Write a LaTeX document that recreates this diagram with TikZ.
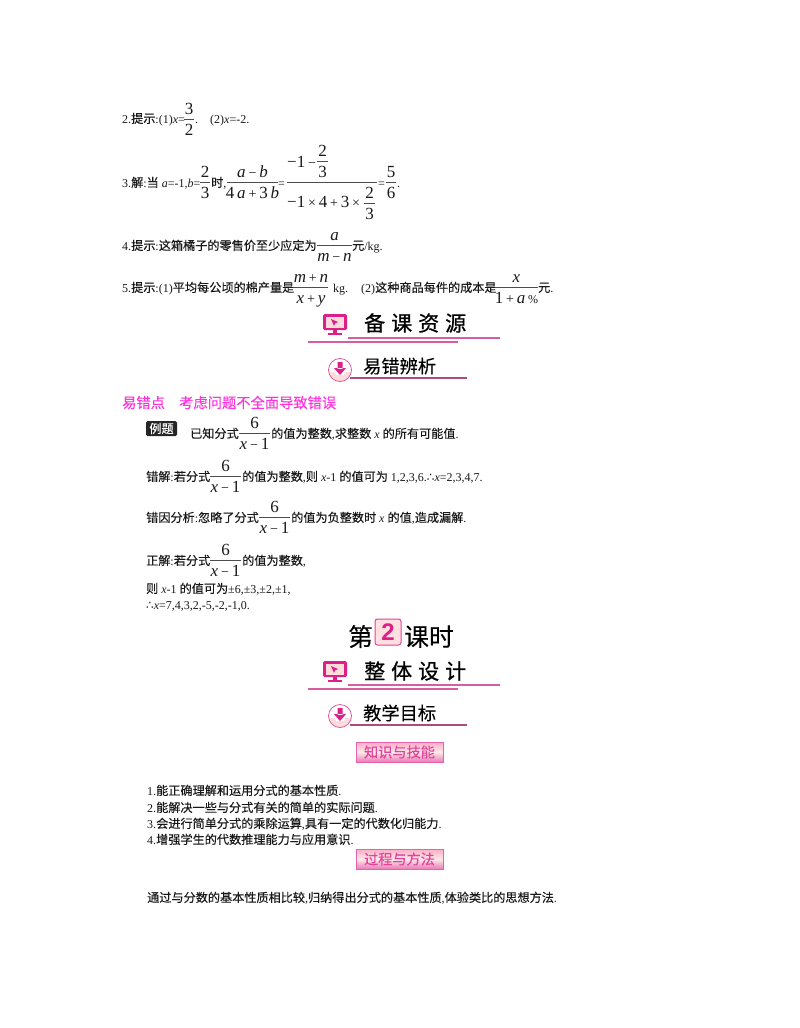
\documentclass[tikz,border=0pt]{standalone}
\usepackage{fontspec}
\setmainfont{Liberation Serif}
\newfontfamily\cjk[Scale=1.012,FakeBold=0.15]{Noto Sans CJK SC}
\newfontfamily\cjkhead[FakeBold=0.8]{Noto Sans CJK SC}
\newfontfamily\symf{DejaVu Sans}
\newfontfamily\numf{Liberation Sans}
\usetikzlibrary{calc}
\newcommand{\C}[1]{{\cjk #1}}
\newcommand{\I}[1]{\textit{#1}}
\newcommand{\Th}{{\symf\fontsize{12}{12}\selectfont ∴}}
\newcounter{nid}
\definecolor{rulepink}{HTML}{D85CA0}
\definecolor{iconpink}{HTML}{DC2088}
\definecolor{hotpink}{HTML}{FF33DD}
\tikzset{
  x=1pt,y=-1pt,
  txt/.style={anchor=base west,inner sep=0pt,font=\fontsize{12}{14}\selectfont,text=black!90},
  fracnum/.style={anchor=base,inner sep=0pt,font=\fontsize{17}{19}\selectfont,text=black!90},
  head/.style={anchor=base west,inner sep=0pt,font=\cjkhead\fontsize{21}{24}\selectfont,text=black},
  subhead/.style={anchor=base west,inner sep=0pt,font=\cjk\fontsize{18}{20}\selectfont,text=black},
  redhead/.style={anchor=base west,inner sep=0pt,font=\cjk\fontsize{14.1}{16}\selectfont,text=hotpink},
  barline/.style={line width=0.8pt,black!70},
  hrule/.style={line width=1.2pt,rulepink},
  hruledark/.style={line width=1.2pt,rulepink!80!black},
  banner/.style={draw=iconpink!70,line width=0.6pt,top color=pink!90!magenta,bottom color=iconpink!60,middle color=white!65!pink,inner sep=0pt,minimum width=87pt,minimum height=20pt,font=\cjk\fontsize{14}{16}\selectfont,text=iconpink!85}
}
\newcommand{\T}[3]{\stepcounter{nid}\node[txt] (t\arabic{nid}) at (#1,#2) {#3};}
% \Fr{x1}{x2}{ybar}{num}{den}
\newcommand{\Fr}[5]{\stepcounter{nid}
  \draw[barline] (#1,#3) -- (#2,#3);
  \node[fracnum] (n\arabic{nid}) at ({(#1+#2)/2},#3-4.5) {#4};
  \node[fracnum] (d\arabic{nid}) at ({(#1+#2)/2},#3+16) {#5};}
\newcommand{\Mon}[2]{% top-left corner x,y
  \begin{scope}[shift={(#1,#2)}]
    \fill[iconpink,rounded corners=1.5pt] (0,0) rectangle (24,16);
    \fill[pink!55] (3,2.5) rectangle (21,13.5);
    \fill[iconpink] (8,5) -- (15,8) -- (12,9.5) -- (11,12) -- cycle;
    \fill[iconpink] (10,16) rectangle (14,19);
    \fill[iconpink] (5,19) rectangle (19,21);
  \end{scope}}
\newcommand{\Dl}[2]{% centre
  \begin{scope}[shift={(#1,#2)}]
    \fill[white] (0,0) circle (11.5);
    \begin{scope}
      \clip (0,0) circle (11.5);
      \fill[pink!55] (-12,2) -- (-5,2) -- (-4,5) -- (4,5) -- (5,2) -- (12,2) -- (12,12) -- (-12,12) -- cycle;
    \end{scope}
    \draw[rulepink,line width=0.8pt] (0,0) circle (11.5);
    \fill[iconpink] (-2.5,-8) rectangle (2.5,-1) (-6,-2) -- (6,-2) -- (0,5) -- cycle;
  \end{scope}}
\newcommand{\Mn}{{\fontsize{14}{14}\selectfont −}}
\newcommand{\Pl}{{\fontsize{14}{14}\selectfont +}}
\newcommand{\Tm}{{\fontsize{14}{14}\selectfont ×}}
\newcommand{\xmo}{\I{x}\,\Mn\,1}
\begin{document}
\begin{tikzpicture}
\useasboundingbox (0,0) rectangle (800,1028);
\fill[white] (0,0) rectangle (800,1028);
% 2
\T{122}{123}{2.\C{提示}:(1)\I{x}=}
\Fr{184}{194}{119}{3}{2}
\T{195}{123}{.}
\T{210}{123}{(2)\I{x}=-2.}
% 3
\T{122}{187}{3.\C{解}:\C{当} \I{a}=-1,\I{b}=}
\Fr{200}{210}{182}{2}{3}
\T{211}{187}{\C{时},}
\Fr{227}{278}{182}{\I{a}\,\Mn\,\I{b}}{4\,\I{a}\,\Pl\,3\,\I{b}}
\T{278}{187}{=}
\draw[barline] (287,182) -- (377,182);
\stepcounter{nid}\node[fracnum,anchor=base west] (m1) at (287,167) {−1\,\Mn};
\Fr{317}{328}{161}{2}{3}
\stepcounter{nid}\node[fracnum,anchor=base west] (m2) at (287,207) {−1\,\Tm\,4\,\Pl\,3\,\Tm};
\Fr{364}{375}{203}{2}{3}
\T{378}{187}{=}
\Fr{386}{396}{182}{5}{6}
\T{397}{187}{.}
% 4
\T{122}{250}{4.\C{提示}:\C{这箱橘子的零售价至少应定为}}
\Fr{317}{352}{245}{\I{a}}{\I{m}\,\Mn\,\I{n}}
\T{352}{250}{\C{元}/kg.}
% 5
\T{122}{292}{5.\C{提示}:(1)\C{平均每公顷的棉产量是}}
\Fr{294}{328}{287}{\I{m}\,\Pl\,\I{n}}{\I{x}\,\Pl\,\I{y}}
\T{333}{292}{kg.}
\T{361}{292}{(2)\C{这种商品每件的成本是}}
\Fr{495}{538}{287}{\I{x}}{1\,\Pl\,\I{a}\,{\fontsize{12}{14}\selectfont \%}}
\T{538}{292}{\C{元}.}
% header 1
\Mon{323}{314}
\node[head] (h1) at (364,331) {备\hspace{6pt}课\hspace{6pt}资\hspace{6pt}源};
\draw[hrule] (348,338) -- (500,338);
\draw[hrule] (308,342) -- (458,342);
\Dl{340}{370}
\node[subhead] (h2) at (363,373) {易错辨析};
\draw[hruledark] (350,378) -- (467,378);
% red head
\node[redhead] (r1) at (122,408) {易错点};
\node[redhead] (r2) at (179,408) {考虑问题不全面导致错误};
% example
\node[fill=black!85,rounded corners=1.5pt,minimum width=31pt,minimum height=15pt,inner sep=0pt,text=white,font=\cjk\fontsize{12}{14}\selectfont] (tag) at (161.5,428.5) {例题};
\T{190}{438}{\C{已知分式}}
\Fr{239}{270}{433}{6}{\xmo}
\T{271}{438}{\C{的值为整数},\C{求整数} \I{x} \C{的所有可能值}.}
\T{146}{481}{\C{错解}:\C{若分式}}
\Fr{210}{241}{476}{6}{\xmo}
\T{242}{481}{\C{的值为整数},\C{则} \I{x}-1 \C{的值可为} 1,2,3,6.\Th\I{x}=2,3,4,7.}
\T{146}{522}{\C{错因分析}:\C{忽略了分式}}
\Fr{259}{290}{517}{6}{\xmo}
\T{291}{522}{\C{的值为负整数时} \I{x} \C{的值},\C{造成漏解}.}
\T{146}{565}{\C{正解}:\C{若分式}}
\Fr{210}{241}{560}{6}{\xmo}
\T{242}{565}{\C{的值为整数},}
\T{146}{593}{\C{则} \I{x}-1 \C{的值可为}±6,±3,±2,±1,}
\T{146}{609}{\Th\I{x}=7,4,3,2,-5,-2,-1,0.}
% lesson title
\node[anchor=base west,inner sep=0pt,font=\cjk\fontsize{24.5}{28}\selectfont,text=black] (k1) at (348,646) {第};
\node[draw=iconpink!85,line width=1pt,fill=pink!50,rounded corners=2.5pt,minimum width=26pt,minimum height=26pt,inner sep=0pt,text=iconpink,font=\numf\bfseries\fontsize{24}{26}\selectfont] (k2) at (388,632) {2};
\node[anchor=base west,inner sep=0pt,font=\cjk\fontsize{24.5}{28}\selectfont,text=black] (k3) at (404,646) {课时};
% header 2
\Mon{323}{661}
\node[head] (h3) at (364,679) {整\hspace{6pt}体\hspace{6pt}设\hspace{6pt}计};
\draw[hrule] (348,685) -- (500,685);
\draw[hrule] (308,689) -- (458,689);
\Dl{340}{716}
\node[subhead] (h4) at (363,720) {教学目标};
\draw[hruledark] (350,725) -- (467,725);
\node[banner] (b1) at (399.5,752) {知识与技能};
\T{147}{795}{1.\C{能正确理解和运用分式的基本性质}.}
\T{147}{812}{2.\C{能解决一些与分式有关的简单的实际问题}.}
\T{147}{828}{3.\C{会进行简单分式的乘除运算},\C{具有一定的代数化归能力}.}
\T{147}{844}{4.\C{增强学生的代数推理能力与应用意识}.}
\node[banner] (b2) at (399.5,859) {过程与方法};
\T{147}{902}{\C{通过与分数的基本性质相比较},\C{归纳得出分式的基本性质},\C{体验类比的思想方法}.}
\end{tikzpicture}
\end{document}
